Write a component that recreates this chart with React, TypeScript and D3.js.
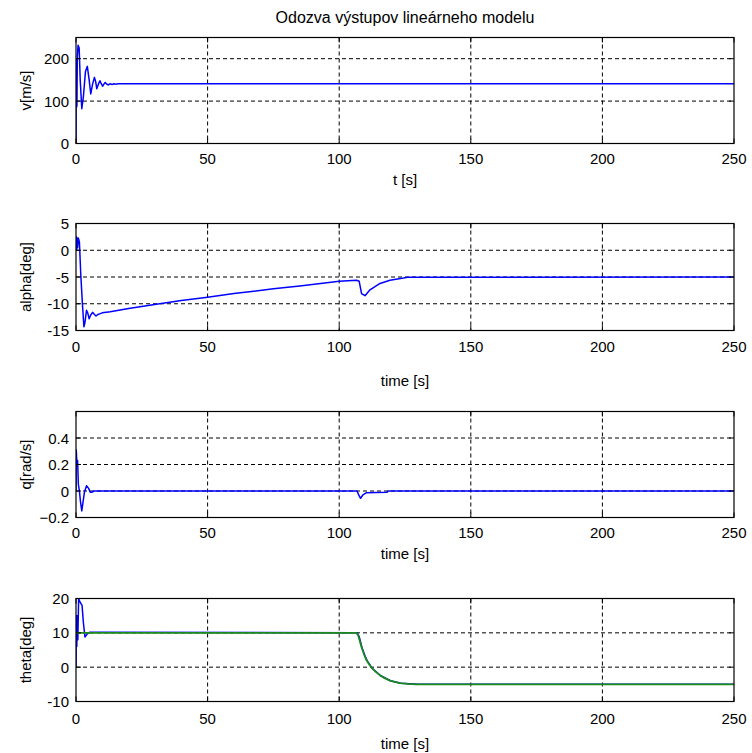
import React from "react";
import * as d3 from "d3";

// ---------- data ----------
const xTicks = [0, 50, 100, 150, 200, 250];

const vTime = [0, 0.05, 0.15, 0.25, 0.35, 0.5, 0.8, 1.2, 1.6, 2.2, 2.8, 3.6, 4.3, 5.0, 5.6, 6.3, 7.0, 7.5, 7.9, 8.5, 9.1, 9.6, 10.1, 10.6, 11.1, 11.7, 12.3, 13, 13.7, 14.4, 15, 16, 17, 250];
const vValues = [0, 200, 85, 200, 88, 205, 232, 225, 150, 82, 110, 170, 182, 150, 117, 140, 156, 145, 129, 140, 148, 141, 135, 140, 144, 140, 138, 141, 139, 141, 140, 141, 141, 141];
const vTicks = [0, 100, 200];

const alphaTime = [0, 0.1, 0.2, 0.3, 0.4, 0.6, 0.9, 1.3, 1.8, 2.4, 3.0, 3.4, 4.0, 4.5, 5.0, 5.6, 6.3, 7.0, 7.6, 8.3, 8.9, 10, 13, 20, 28, 40, 50, 60, 75, 85, 100, 106.6, 107.6, 108.5, 109.8, 111.7, 115.5, 119.3, 124.4, 126, 250];
const alphaValues = [2.5, 0, 2.5, 0.2, 2.3, 0.5, 2.3, 1.5, -4.4, -9.7, -14.3, -13.5, -11.2, -11.8, -12.8, -12.1, -11.6, -12.0, -12.3, -12.0, -11.9, -11.7, -11.5, -10.9, -10.3, -9.4, -8.8, -8.1, -7.2, -6.7, -5.8, -5.6, -5.8, -8.1, -8.5, -7.4, -6.2, -5.6, -5.2, -5.05, -5];
const alphaTicks = [-15, -10, -5, 0, 5];

const qTime = [0, 0.1, 0.35, 0.6, 0.9, 1.3, 1.7, 2.2, 2.7, 3.2, 4.0, 4.8, 5.4, 6.0, 6.8, 106.8, 107.4, 108.1, 109.0, 110.4, 114, 118.2, 118.6, 250];
const qValues = [0, 0.31, 0.2, 0.23, 0.05, 0.0, -0.08, -0.15, -0.08, -0.01, 0.04, 0.02, -0.01, -0.01, 0.0, 0, -0.03, -0.055, -0.03, -0.013, -0.012, -0.01, 0, 0];
const qTicks = [-0.2, 0, 0.2, 0.4];

const thetaTime = [0, 0.1, 0.3, 0.5, 0.7, 1.0, 1.5, 2.3, 2.8, 3.4, 4.3, 5.3, 6.6, 106.8, 107.6, 108.7, 109.8, 110.6, 112.5, 115.8, 119.5, 123.5, 130, 250];
const thetaValues = [0, 15, 6, 15, 8, 20, 19, 18, 13, 8.8, 9.7, 10.2, 10.2, 10, 8.9, 5.6, 3.3, 1.9, -0.3, -2.5, -3.95, -4.7, -5.0, -5];
const thetaRefTime = [0, 106.5, 107.2, 108.5, 109.5, 110.4, 111.3, 112.3, 113.8, 115.5, 117.3, 119.3, 121, 123, 126, 129.4, 250];
const thetaRefValues = [10, 10, 9.3, 5.8, 3.6, 2.0, 0.9, -0.2, -1.3, -2.4, -3.2, -3.9, -4.3, -4.65, -4.85, -5.0, -5];
const thetaTicks = [-10, 0, 10, 20];

// ---------- layout ----------
const W = 752;
const H = 753;
const X0 = 76;
const X1 = 734;
const FONT = "'Liberation Sans', Arial, sans-serif";
const FS = 15;

type Series = { t: number[]; v: number[]; color: string; width: number };
type Panel = {
  top: number; bottom: number; domain: [number, number]; ticks: number[];
  ylabel: string; xlabel: string; tickLabelY: number; xlabelY: number;
  series: Series[];
};

const BLUE = "#0000ff";
const GREEN = "#1a8a1a";

const panels: Panel[] = [
  { top: 37.5, bottom: 143.5, domain: [0, 250], ticks: vTicks, ylabel: "v[m/s]", xlabel: "t [s]", tickLabelY: 163.5, xlabelY: 185,
    series: [{ t: vTime, v: vValues, color: BLUE, width: 1.5 }] },
  { top: 223.5, bottom: 330.5, domain: [-15, 5], ticks: alphaTicks, ylabel: "alpha[deg]", xlabel: "time [s]", tickLabelY: 351.5, xlabelY: 385.5,
    series: [{ t: alphaTime, v: alphaValues, color: BLUE, width: 1.5 }] },
  { top: 411.5, bottom: 517.5, domain: [-0.2, 0.6], ticks: qTicks, ylabel: "q[rad/s]", xlabel: "time [s]", tickLabelY: 538, xlabelY: 558.5,
    series: [{ t: qTime, v: qValues, color: BLUE, width: 1.5 }] },
  { top: 598.5, bottom: 701.5, domain: [-10, 20], ticks: thetaTicks, ylabel: "theta[deg]", xlabel: "time [s]", tickLabelY: 723.5, xlabelY: 748.5,
    series: [
      { t: thetaTime, v: thetaValues, color: BLUE, width: 1.5 },
      { t: thetaRefTime, v: thetaRefValues, color: GREEN, width: 1.8 },
    ] },
];

const x = d3.scaleLinear().domain([0, 250]).range([X0, X1]);
const TICK = 5;

function PanelView({ p, idx }: { p: Panel; idx: number }) {
  const y = d3.scaleLinear().domain(p.domain).range([p.bottom, p.top]);
  const fmt = (d: number) => (Number.isInteger(d) ? String(d) : d3.format(".1f")(d));
  const clipId = `clip${idx}`;
  return (
    <g>
      <defs>
        <clipPath id={clipId}>
          <rect x={X0} y={p.top} width={X1 - X0} height={p.bottom - p.top} />
        </clipPath>
      </defs>
      {xTicks.filter((t) => t > 0 && t < 250).map((t) => (
        <line key={"gx" + t} x1={x(t)} x2={x(t)} y1={p.top} y2={p.bottom} stroke="#000" strokeWidth={1} strokeDasharray="4,3" />
      ))}
      {p.ticks.filter((t) => t > p.domain[0] && t < p.domain[1]).map((t) => (
        <line key={"gy" + t} x1={X0} x2={X1} y1={y(t)} y2={y(t)} stroke="#000" strokeWidth={1} strokeDasharray="4,3" />
      ))}
      <g clipPath={`url(#${clipId})`}>
        {p.series.map((s, i) => {
          const pts: [number, number][] = s.t.map((t, k) => [t, s.v[k]]);
          const line = d3.line<[number, number]>().x((d) => x(d[0])).y((d) => y(d[1]));
          return <path key={i} d={line(pts) || ""} fill="none" stroke={s.color} strokeWidth={s.width} strokeLinejoin="round" />;
        })}
      </g>
      {xTicks.map((t) => (
        <g key={"tx" + t}>
          <line x1={x(t)} x2={x(t)} y1={p.bottom} y2={p.bottom - TICK} stroke="#000" />
          <line x1={x(t)} x2={x(t)} y1={p.top} y2={p.top + TICK} stroke="#000" />
          <text x={x(t)} y={p.tickLabelY} textAnchor="middle" fontSize={FS} fontFamily={FONT} fill="#000">{t}</text>
        </g>
      ))}
      {p.ticks.map((t) => (
        <g key={"ty" + t}>
          <line x1={X0} x2={X0 + TICK} y1={y(t)} y2={y(t)} stroke="#000" />
          <line x1={X1} x2={X1 - TICK} y1={y(t)} y2={y(t)} stroke="#000" />
          <text x={X0 - 7} y={y(t) + 5.5} textAnchor="end" fontSize={FS} fontFamily={FONT} fill="#000">{fmt(t)}</text>
        </g>
      ))}
      <rect x={X0} y={p.top} width={X1 - X0} height={p.bottom - p.top} fill="none" stroke="#000" strokeWidth={1.2} />
      <text x={(X0 + X1) / 2} y={p.xlabelY} textAnchor="middle" fontSize={FS} fontFamily={FONT} fill="#000">{p.xlabel}</text>
      <text transform={`translate(30.5,${(p.top + p.bottom) / 2}) rotate(-90)`} textAnchor="middle" fontSize={FS} fontFamily={FONT} fill="#000">{p.ylabel}</text>
    </g>
  );
}

export default function App() {
  return (
    <svg width={W} height={H} style={{ position: "absolute", left: 0, top: 0, background: "#fff" }}>
      <rect x={0} y={0} width={W} height={H} fill="#fff" />
      <text x={(X0 + X1) / 2} y={22.5} textAnchor="middle" fontSize={16} fontFamily={FONT} fill="#000">Odozva výstupov lineárneho modelu</text>
      {panels.map((p, i) => <PanelView key={i} p={p} idx={i} />)}
    </svg>
  );
}
